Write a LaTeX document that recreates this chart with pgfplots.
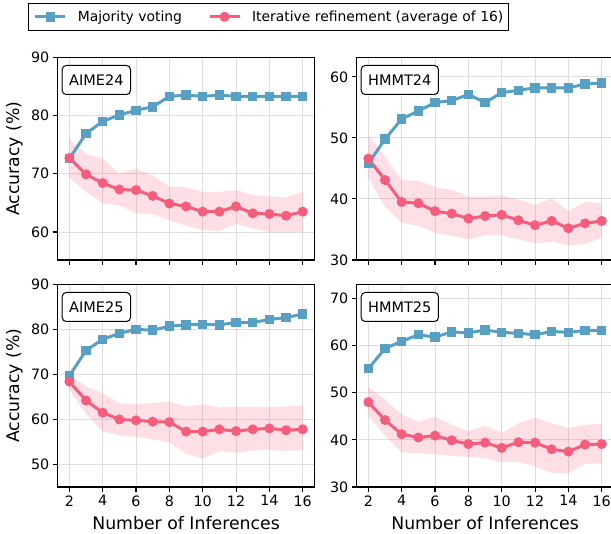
\documentclass[border=0pt]{standalone}
\usepackage{fontspec}
\setmainfont{DejaVu Sans}
\usepackage{pgfplots}
\pgfplotsset{compat=1.18}
\usepackage{pgfplotstable}
\usepgfplotslibrary{fillbetween}
\definecolor{mvblue}{RGB}{88,160,195}
\definecolor{irpink}{RGB}{245,93,125}

\pgfplotstableread{
x mv ir lo hi
2 72.6 72.7 69.4 76.0
3 76.9 69.9 66.9 73.4
4 79.0 68.4 64.9 72.6
5 80.1 67.3 64.6 70.0
6 80.9 67.2 63.2 70.9
7 81.5 66.2 63.1 69.7
8 83.3 64.9 62.0 67.8
9 83.5 64.4 61.1 67.7
10 83.3 63.5 60.3 66.9
11 83.5 63.5 60.2 66.9
12 83.3 64.4 61.4 67.2
13 83.3 63.2 60.6 66.4
14 83.3 63.1 60.0 66.1
15 83.3 62.8 60.0 65.9
16 83.3 63.5 60.0 67.0
}\aimeA

\pgfplotstableread{
x mv ir lo hi
2 45.8 46.6 43.4 50.5
3 49.8 43.1 38.7 46.9
4 53.1 39.5 36.1 43.1
5 54.4 39.3 35.6 43.0
6 55.8 38.0 34.4 41.9
7 56.1 37.6 34.0 41.5
8 57.1 36.8 33.4 40.4
9 55.8 37.2 34.1 40.4
10 57.4 37.4 34.0 40.6
11 57.8 36.5 33.4 39.9
12 58.2 35.7 32.7 39.0
13 58.2 36.4 33.0 40.1
14 58.2 35.2 32.4 38.0
15 58.8 36.0 32.6 39.5
16 59.0 36.4 33.7 39.3
}\hmmtA

\pgfplotstableread{
x mv ir lo hi
2 69.7 68.4 66.5 70.0
3 75.3 64.2 61.3 67.3
4 77.8 61.5 57.3 65.8
5 79.1 60.0 56.5 63.6
6 80.0 59.8 56.1 63.4
7 79.8 59.5 55.6 63.6
8 80.7 59.4 54.9 64.0
9 81.0 57.3 52.4 62.8
10 81.1 57.3 51.3 63.4
11 81.0 57.8 53.0 62.6
12 81.5 57.4 52.6 62.9
13 81.5 57.8 53.1 62.8
14 82.2 58.0 53.2 62.7
15 82.6 57.6 53.0 62.9
16 83.4 57.8 53.2 63.1
}\aimeB

\pgfplotstableread{
x mv ir lo hi
2 55.1 48.0 45.0 51.2
3 59.4 44.2 40.9 48.5
4 60.9 41.2 37.3 45.4
5 62.3 40.5 37.2 43.8
6 61.8 40.9 37.0 44.9
7 62.9 39.9 36.6 43.2
8 62.7 39.1 36.4 41.8
9 63.3 39.4 36.1 43.0
10 62.8 38.3 35.2 41.5
11 62.6 39.5 35.4 43.5
12 62.3 39.4 34.3 44.7
13 63.0 38.0 33.0 43.5
14 62.8 37.5 32.9 42.5
15 63.2 39.0 34.9 43.2
16 63.2 39.1 35.0 43.4
}\hmmtB

\tikzset{
  tag/.style={draw=black, line width=1pt, rounded corners=4pt, fill=white,
    inner xsep=7pt, inner ysep=0pt, minimum height=29pt, anchor=north west,
    font=\fontsize{14.5}{16}\selectfont, xshift=4pt, yshift=-7.7pt},
}
\pgfplotsset{
  panel/.style={
    scale only axis, width=256.7pt, height=202.7pt,
    xmin=1.3, xmax=16.7, xtick={2,4,...,16},
    grid=major, major grid style={line width=1pt, color=black!13},
    axis line style={line width=1.1pt},
    tick align=outside, tick pos=left,
    major tick length=4.9pt,
    every tick/.style={black, line width=1.1pt},
    tick label style={font=\fontsize{14.3}{16}\selectfont},
    /pgf/number format/assume math mode=true,
    label style={font=\fontsize{17.3}{20}\selectfont},
    ylabel style={at={(axis description cs:-0.135,0.5)}, anchor=south, inner sep=0pt},
    xlabel style={at={(axis description cs:0.5,-0.145)}, anchor=north, inner sep=0pt},
  },
  mv/.style={mvblue, line width=3pt, mark=square*, mark size=4.25pt, mark options={solid, line width=1pt}},
  ir/.style={irpink, line width=3pt, mark=*, mark size=4.5pt, mark options={solid, line width=1pt}},
}

\newcommand{\panel}[1]{%
  \addplot[name path=hi, draw=none, forget plot] table[x=x,y=hi] {#1};
  \addplot[name path=lo, draw=none, forget plot] table[x=x,y=lo] {#1};
  \addplot[irpink, fill opacity=0.2, draw=none, forget plot] fill between[of=hi and lo];
  \addplot[mv] table[x=x,y=mv] {#1};
  \addplot[ir] table[x=x,y=ir] {#1};
}

\begin{document}
\begin{tikzpicture}

\begin{axis}[panel, at={(57.7pt,-57.3pt)}, anchor=north west,
  ymin=55.2, ymax=90, ytick={60,70,80,90}, xticklabels={},
  ylabel={Accuracy (\%)},
  legend style={at={(axis description cs:-0.1145,1.269)}, anchor=north west,
    draw=black, line width=1pt, legend columns=2,
    inner xsep=5pt, inner ysep=7.5pt,
    nodes={inner sep=0pt},
    font=\fontsize{13.9}{16}\selectfont,
    /tikz/every odd column/.append style={column sep=11pt},
    /tikz/every even column/.append style={column sep=26pt}},
  legend image code/.code={\draw[mark repeat=2,mark phase=2,#1] plot coordinates {(0pt,0pt) (15pt,0pt) (30pt,0pt)};},
]
\panel{\aimeA}
\addlegendentry{Majority voting}
\addlegendentry{Iterative refinement (average of 16)}
\node[tag] at (rel axis cs:0,1) {AIME24};
\end{axis}

\begin{axis}[panel, at={(356.7pt,-57.3pt)}, anchor=north west,
  ymin=30, ymax=63.2, ytick={30,40,50,60}, xticklabels={}]
\panel{\hmmtA}
\node[tag] at (rel axis cs:0,1) {HMMT24};
\end{axis}

\begin{axis}[panel, at={(57.7pt,-284.3pt)}, anchor=north west,
  ymin=45, ymax=90, ytick={50,60,70,80,90},
  ylabel={Accuracy (\%)}, xlabel={Number of Inferences}]
\panel{\aimeB}
\node[tag] at (rel axis cs:0,1) {AIME25};
\end{axis}

\begin{axis}[panel, at={(356.7pt,-284.3pt)}, anchor=north west,
  ymin=30, ymax=73, ytick={30,40,50,60,70},
  xlabel={Number of Inferences}]
\panel{\hmmtB}
\node[tag] at (rel axis cs:0,1) {HMMT25};
\end{axis}
\pgfresetboundingbox
\path (0,-534pt) rectangle (611pt,0);
\end{tikzpicture}
\end{document}
